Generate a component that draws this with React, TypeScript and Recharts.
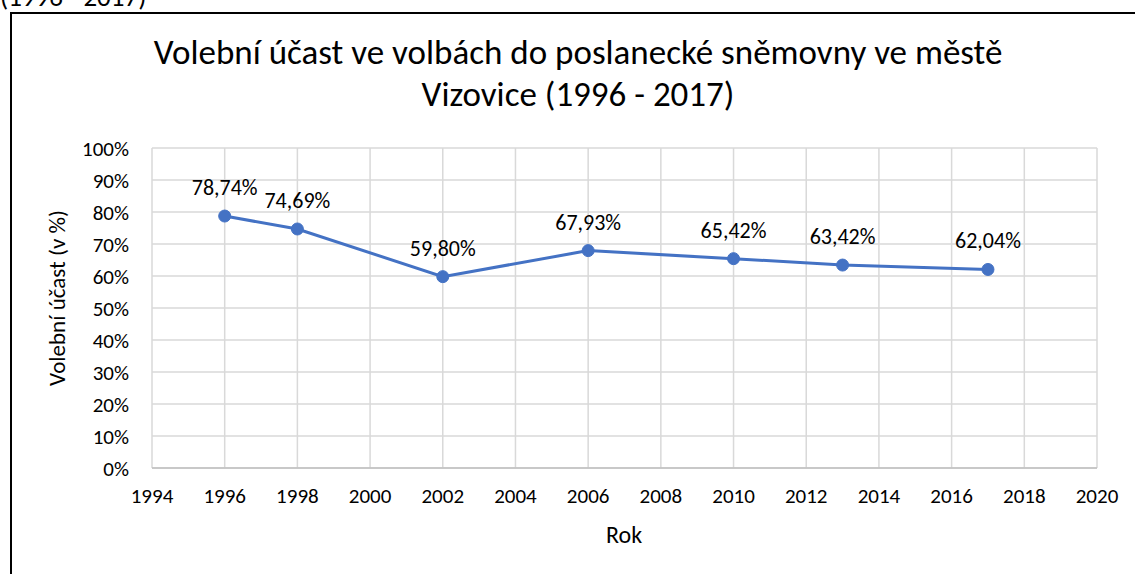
import { CartesianGrid, LabelList, Line, LineChart, XAxis, YAxis } from 'recharts';

const years = [1996, 1998, 2002, 2006, 2010, 2013, 2017];
const turnout = [78.74, 74.69, 59.8, 67.93, 65.42, 63.42, 62.04];
const xTicks = [1994, 1996, 1998, 2000, 2002, 2004, 2006, 2008, 2010, 2012, 2014, 2016, 2018, 2020];
const yTicks = [0, 10, 20, 30, 40, 50, 60, 70, 80, 90, 100];

const data = years.map((year, i) => ({ year, value: turnout[i] }));

const FONT = 'Calibri, Carlito, Lato, sans-serif';
const pct = (v: number) => v.toFixed(2).replace('.', ',') + '%';

const XTick = ({ x, y, payload }: any) => (
  <text x={x} y={y} dy="0.71em" textAnchor="middle" fill="#000" fontSize={21} fontFamily={FONT}>
    {payload.value}
  </text>
);

const YTick = ({ x, y, payload }: any) => (
  <text x={x} y={y} dy="0.36em" textAnchor="end" fill="#000" fontSize={21} fontFamily={FONT}>
    {payload.value + '%'}
  </text>
);

export default function App() {
  return (
    <div style={{ position: 'absolute', left: 0, top: 0, width: 1135, height: 574, overflow: 'hidden', background: '#fff', fontFamily: FONT, color: '#000' }}>
      <div style={{ position: 'absolute', left: 0, top: -20, fontSize: 27, whiteSpace: 'nowrap' }}>(1996 - 2017)</div>
      <div style={{ position: 'absolute', left: 10, top: 12, width: 1200, height: 700, border: '2px solid #000', boxSizing: 'border-box' }} />
      <div style={{ position: 'absolute', left: 78, top: 31, width: 1000, textAlign: 'center', fontSize: 35, lineHeight: '42px', whiteSpace: 'nowrap' }}>
        Volební účast ve volbách do poslanecké sněmovny ve městě
        <br />
        Vizovice (1996 - 2017)
      </div>
      <div style={{ position: 'absolute', left: 57, top: 298, transform: 'translate(-50%, -50%) rotate(-90deg)', fontSize: 23, whiteSpace: 'nowrap' }}>
        Volební účast (v %)
      </div>
      <div style={{ position: 'absolute', left: 624, top: 534, transform: 'translate(-50%, -50%)', fontSize: 24 }}>Rok</div>
      <div style={{ position: 'absolute', left: 0, top: 0 }}>
        <LineChart width={1135} height={574} data={data} margin={{ top: 148, right: 38, bottom: 66, left: 92 }}>
          <CartesianGrid stroke="#d9d9d9" strokeWidth={1.5} />
          <XAxis
            dataKey="year"
            type="number"
            domain={[1994, 2020]}
            ticks={xTicks}
            height={40}
            tickLine={false}
            axisLine={{ stroke: '#bfbfbf', strokeWidth: 1.5 }}
            tickMargin={14}
            tick={<XTick />}
          />
          <YAxis
            type="number"
            domain={[0, 100]}
            ticks={yTicks}
            width={60}
            tickLine={false}
            axisLine={false}
            tickMargin={17}
            tick={<YTick />}
          />
          <Line
            dataKey="value"
            stroke="#4472C4"
            strokeWidth={3}
            dot={{ r: 6, fill: '#4472C4', stroke: '#4472C4', strokeWidth: 1 }}
            isAnimationActive={false}
          >
            <LabelList
              dataKey="value"
              position="top"
              offset={21}
              formatter={(v: any) => pct(Number(v))}
              style={{ fill: '#000', fontSize: 22, fontFamily: FONT }}
            />
          </Line>
        </LineChart>
      </div>
    </div>
  );
}
